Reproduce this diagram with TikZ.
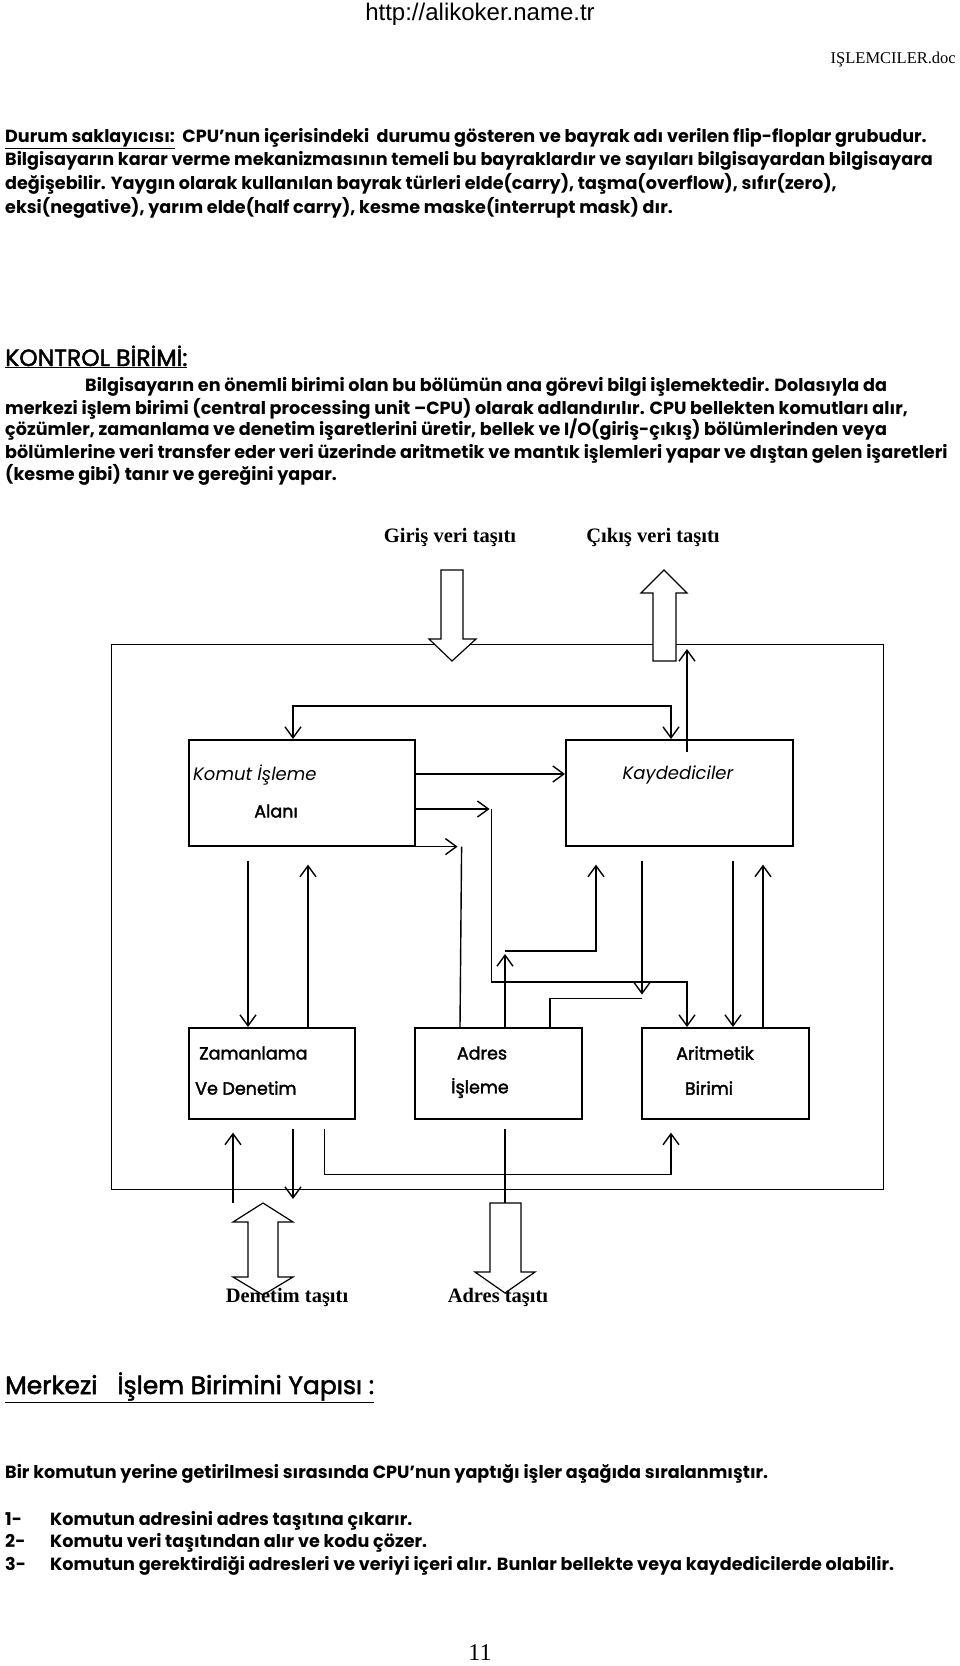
\documentclass[tikz,border=0pt]{standalone}
\usepackage{fontspec}
\usepackage{xcolor}
\usetikzlibrary{arrows.meta,calc}
\setmainfont{Poppins}
\newfontfamily\gothicmed{Poppins}[FakeBold=2]
\newfontfamily\timesf{Liberation Serif}
\newfontfamily\arialf{Liberation Sans}

\begin{document}
\begin{tikzpicture}[x=1pt, y=-1pt,
    >={Straight Barb[length=11pt,width=16pt]},
    box/.style={draw, line width=1.6pt, anchor=north west, inner sep=0pt},
    link/.style={line width=1.4pt},
    bus/.style={draw, fill=white, line width=1.2pt, line join=miter},
    body/.style={anchor=base west, inner sep=0pt, font=\fontsize{17.6}{20}\selectfont\bfseries},
    head/.style={anchor=base west, inner sep=0pt, font=\fontsize{23.5}{26}\selectfont\gothicmed},
    boxtxt/.style={inner sep=0pt, font=\fontsize{17.5}{20}\selectfont\gothicmed},
    bustxt/.style={inner sep=0pt, font=\fontsize{20.5}{22}\selectfont\timesf\bfseries}]

    \fill[white] (0,0) rectangle (960,1666);
    \useasboundingbox (0,0) rectangle (960,1666);

    % page header
    \node[font=\fontsize{24}{26}\selectfont\arialf] (site) at (480,14) {http://alikoker.name.tr};
    \node[anchor=east, inner sep=0pt, font=\fontsize{16.5}{18}\selectfont\timesf] (file) at (956,60) {IŞLEMCILER.doc};

    % Durum saklayicisi
    \node[body] (p1a) at (5,142) {\underline{Durum saklayıcısı:}\ \ CPU’nun içerisindeki\ \ durumu gösteren ve bayrak adı verilen flip-floplar grubudur.};
    \node[body] (p1b) at (5,165) {Bilgisayarın karar verme mekanizmasının temeli bu bayraklardır ve sayıları bilgisayardan bilgisayara};
    \node[body] (p1c) at (5,189) {değişebilir. Yaygın olarak kullanılan bayrak türleri elde(carry), taşma(overflow), sıfır(zero),};
    \node[body] (p1d) at (5,213) {eksi(negative), yarım elde(half carry), kesme maske(interrupt mask) dır.};

    % Kontrol birimi
    \node[head] (kontrol) at (5,366) {\underline{KONTROL BİRİMİ:}};
    \node[body] (p2a) at (85,391) {Bilgisayarın en önemli birimi olan bu bölümün ana görevi bilgi işlemektedir. Dolasıyla da};
    \node[body] (p2b) at (5,414) {merkezi işlem birimi (central processing unit –CPU) olarak adlandırılır. CPU bellekten komutları alır,};
    \node[body] (p2c) at (5,435) {çözümler, zamanlama ve denetim işaretlerini üretir, bellek ve I/O(giriş-çıkış) bölümlerinden veya};
    \node[body] (p2d) at (5,458) {bölümlerine veri transfer eder veri üzerinde aritmetik ve mantık işlemleri yapar ve dıştan gelen işaretleri};
    \node[body] (p2e) at (5,480) {(kesme gibi) tanır ve gereğini yapar.};

    % CPU block
    \node[draw, line width=1.2pt, anchor=north west, inner sep=0pt,
          minimum width=772pt, minimum height=545pt] (cpu) at (111,644) {};

    \node[box, minimum width=226pt, minimum height=106pt] (komut) at (188,739) {};
    \node[box, minimum width=227pt, minimum height=106pt] (kayd) at (565,739) {};
    \node[box, minimum width=166pt, minimum height=91pt] (zaman) at (188,1027) {};
    \node[box, minimum width=167pt, minimum height=91pt] (adres) at (414,1027) {};
    \node[box, minimum width=167pt, minimum height=91pt] (arit) at (641,1027) {};

    \node[boxtxt, anchor=west, font=\fontsize{18}{20}\selectfont\itshape] (komutA) at (193,775) {Komut İşleme};
    \node[boxtxt] (komutB) at (276,811) {Alanı};
    \node[boxtxt, font=\fontsize{18}{20}\selectfont\itshape] (kaydA) at (678,775) {Kaydediciler};
    \node[boxtxt, anchor=west] (zamanA) at (199,1053) {Zamanlama};
    \node[boxtxt, anchor=west] (zamanB) at (195,1088) {Ve Denetim};
    \node[boxtxt] (adresA) at (482,1053) {Adres};
    \node[boxtxt] (adresB) at (480,1088) {İşleme};
    \node[boxtxt] (aritA) at (715,1053) {Aritmetik};
    \node[boxtxt] (aritB) at (709,1088) {Birimi};

    \coordinate (outtap) at (687,649);
    \coordinate (dentop) at (263,1203);
    \coordinate (adrtop) at (505,1203);

    % connectors
    \draw[link,<->] ($(komut.north west)+(105,0)$) -- ++(0,-33) -| ($(kayd.north west)+(106,0)$);
    \draw[link,->] ($(kayd.north west)+(122,13)$) -- (outtap);
    \draw[link,->] ($(komut.north east)+(0,35)$) -- ($(kayd.north west)+(0,35)$);
    \draw[link,->] ($(komut.north east)+(0,70)$) -- ++(74,0);
    \draw[link,->] ($(komut.north east)+(76,70)$) |- ($(arit.north west)+(46,-45)$) -- ($(arit.north west)+(46,0)$);
    \draw[link,->] (komut.south east) -- ++(42,0);
    \draw[link] ($(komut.south east)+(46,0)$) -- ($(adres.north west)+(46,0)$);
    \draw[link,->] ($(adres.north west)+(91,0)$) -- ++(0,-73);
    \draw[link,->] ($(adres.north west)+(91,-76)$) -| ($(kayd.south west)+(31,18)$);
    \draw[link,->] ($(kayd.south west)+(77,14)$) -- ++(0,134);
    \draw[link] ($(kayd.south west)+(77,152)$) -| ($(adres.north west)+(136,0)$);
    \draw[link,->] ($(kayd.south west)+(168,14)$) -- ($(arit.north west)+(92,0)$);
    \draw[link,->] ($(arit.north west)+(122,0)$) -- ($(kayd.south west)+(198,18)$);
    \draw[link,->] ($(komut.south west)+(60,14)$) -- ($(zaman.north west)+(60,0)$);
    \draw[link,->] ($(zaman.north west)+(120,0)$) -- ($(komut.south west)+(120,18)$);
    \draw[link,->] ($(zaman.south east)+(-31,9)$) |- ($(arit.south west)+(30,55)$) -- ($(arit.south west)+(30,13)$);
    \draw[link,->] ($(dentop)+(-30,0)$) -- ($(zaman.south west)+(45,13)$);
    \draw[link,->] ($(zaman.south west)+(105,9)$) -- ($(dentop)+(30,-4)$);
    \draw[link] ($(adres.south west)+(91,9)$) -- (adrtop);

    % bus arrows
    \draw[bus] (441,570) -- (463,570) -- (463,639) -- (476,639) -- (452,661) -- (429,639) -- (441,639) -- cycle; % giris
    \draw[bus] (653,661) -- (676,661) -- (676,593) -- (687,593) -- (664,570) -- (641,593) -- (653,593) -- cycle; % cikis
    \draw[bus] (dentop) -- (293,1222) -- (278,1222) -- (278,1277) -- (293,1277) -- (263,1295)
               -- (233,1277) -- (248,1277) -- (248,1222) -- (233,1222) -- cycle; % denetim
    \draw[bus] (490,1203) -- (521,1203) -- (521,1272) -- (535,1272) -- (505,1293) -- (475,1272) -- (490,1272) -- cycle; % adres

    \node[bustxt] (girisL) at (450,537) {Giriş veri taşıtı};
    \node[bustxt] (cikisL) at (653,537) {Çıkış veri taşıtı};
    \node[bustxt] (denL) at (287,1297) {Denetim taşıtı};
    \node[bustxt] (adrL) at (498,1297) {Adres taşıtı};

    % Merkezi islem birimi
    \node[head, font=\fontsize{25}{27}\selectfont\gothicmed] (merkezi) at (5,1394) {\underline{Merkezi\ \ \ İşlem Birimini Yapısı :}};
    \node[body] (p3a) at (5,1478) {Bir komutun yerine getirilmesi sırasında CPU’nun yaptığı işler aşağıda sıralanmıştır.};
    \node[body] (n1) at (5,1525) {1-};
    \node[body] (n2) at (5,1547) {2-};
    \node[body] (n3) at (5,1570) {3-};
    \node[body] (p3b) at (50,1525) {Komutun adresini adres taşıtına çıkarır.};
    \node[body] (p3c) at (50,1547) {Komutu veri taşıtından alır ve kodu çözer.};
    \node[body] (p3d) at (50,1570) {Komutun gerektirdiği adresleri ve veriyi içeri alır. Bunlar bellekte veya kaydedicilerde olabilir.};

    \node[font=\fontsize{24}{26}\selectfont\timesf] (page) at (480,1653) {11};
\end{tikzpicture}
\end{document}
